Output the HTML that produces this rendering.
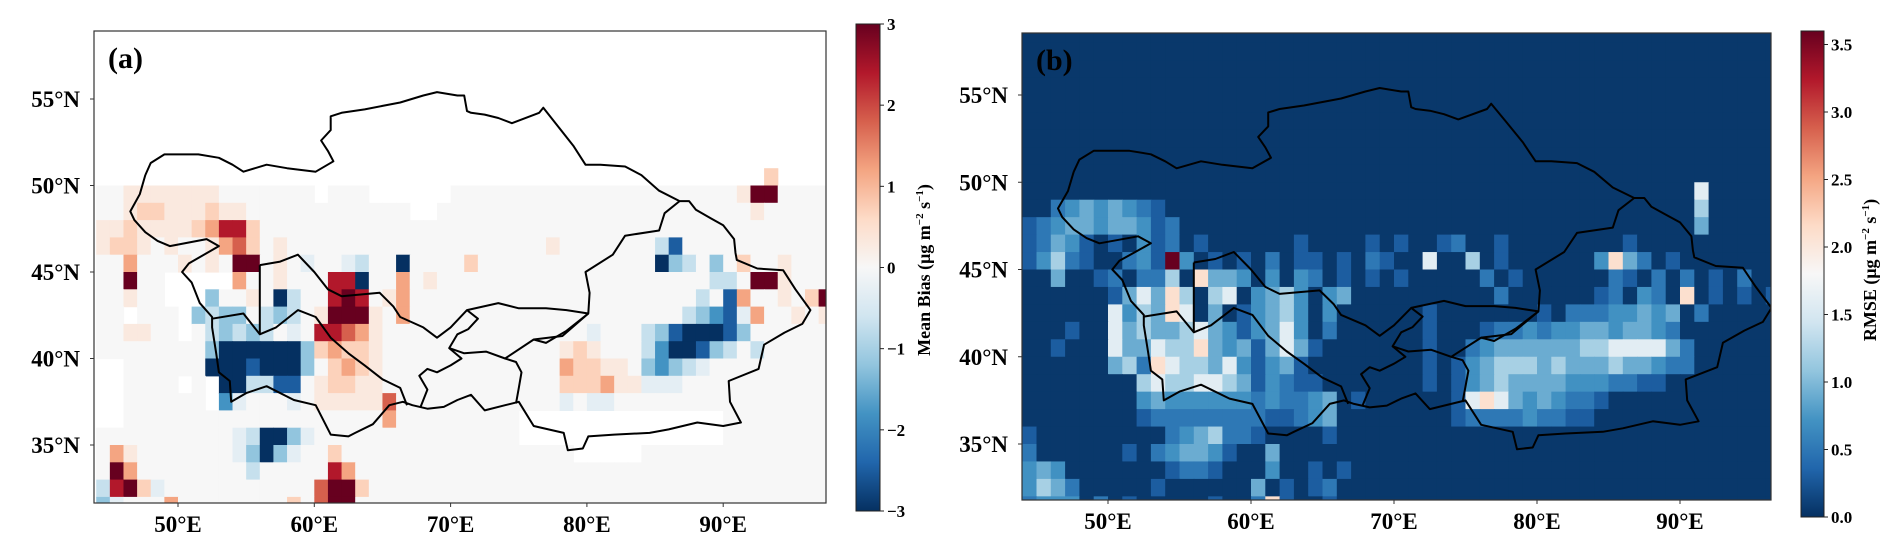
<!DOCTYPE html>
<html><head><meta charset="utf-8"><style>
html,body{margin:0;padding:0;background:#fff}
svg{display:block}
text{font-family:"Liberation Serif",serif;font-weight:bold;fill:#000}
</style></head><body>
<svg id="fig" width="1892" height="555" viewBox="0 0 1892 555" xmlns="http://www.w3.org/2000/svg">
<defs>
<linearGradient id="gradA" x1="0" y1="1" x2="0" y2="0">
<stop offset="0" stop-color="#053061"/><stop offset="0.1" stop-color="#2166ac"/><stop offset="0.2" stop-color="#4393c3"/><stop offset="0.3" stop-color="#92c5de"/><stop offset="0.4" stop-color="#d1e5f0"/><stop offset="0.5" stop-color="#f7f7f7"/><stop offset="0.6" stop-color="#fddbc7"/><stop offset="0.7" stop-color="#f4a582"/><stop offset="0.8" stop-color="#d6604d"/><stop offset="0.9" stop-color="#b2182b"/><stop offset="1" stop-color="#67001f"/>
</linearGradient>
<clipPath id="clipA"><rect x="94" y="31" width="732" height="472"/></clipPath>
<clipPath id="clipB"><rect x="1022" y="33" width="749" height="467"/></clipPath>
</defs>
<g id="panelA"></g>
<g id="panelB"></g>
</svg>
<script>
// ---- data ----
const latTicks = [55, 50, 45, 40, 35];
const lonTicks = [50, 60, 70, 80, 90];
const cbTicksA = [3, 2, 1, 0, -1, -2, -3];
const cbTicksB = [0.0, 0.5, 1.0, 1.5, 2.0, 2.5, 3.0, 3.5];
const levelCharsA = ".123456abcdef";
const levelValsA = [0, 0.3, 0.7, 1.2, 1.8, 2.4, 3, -0.3, -0.7, -1.2, -1.8, -2.5, -3];
const levelCharsB = ".123456789";
const levelValsB = [0.05, 0.3, 0.5, 0.7, 0.9, 1.2, 1.6, 2.1, 2.6, 3.6];
// grid: col i -> lon 44+i..45+i ; row j -> lat 59-j..58-j ; 'w' = no data
const gridA = [
"wwwwwwwwww wwwwwwwwww wwwwwwwwww wwwwwwwwww wwwwwwwwww wwww",
"wwwwwwwwww wwwwwwwwww wwwwwwwwww wwwwwwwwww wwwwwwwwww wwww",
"wwwwwwwwww wwwwwwwwww wwwwwwwwww wwwwwwwwww wwwwwwwwww wwww",
"wwwwwwwwww wwwwwwwwww wwwwwwwwww wwwwwwwwww wwwwwwwwww wwww",
"wwwwwwwwww wwwwwwwwww wwwwwwwwww wwwwwwwwww wwwwwwwwww wwww",
"wwwwwwwwww wwwwwwwwww wwwwwwwwww wwwwwwwwww wwwwwwwwww wwww",
"wwwwwwwwww wwwwwwwwww wwwwwwwwww wwwwwwwwww wwwwwwwwww wwww",
"wwwwwwwwww wwwwwwwwww wwwwwwwwww wwwwwwwwww wwwwwwwwww wwww",
"wwwwwwwwww wwwwwwwwww wwwwwwwwww wwwwwwwwww wwwwwwwww2 wwww",
"..1111111. ......w... wwwwww.... .......... .......166 ....",
"..12211121 1......... ...ww..... .......... ........1. ....",
"1121111235 52........ .......... .......... .......... ....",
"1221.1..13 42.1...... .......... ...1...... .be....... ....",
"..3...1.1. 66.1.a..ab ..f....2.. .......... .fcb.c.2.. 1...",
"..6..wwwww 3..1...55f ..3.1..... .......... .....bb.66 1...",
"..1..wwwc. .1.fb..565 .13....... .......... ....b.e3.. 1.26",
"..w...wcbc c.bcb.1666 1.3....... .......... ...bcdea3. .1.1",
"..11..w.bc bcb.a.5543 1......... ......a... bcefffec.. ....",
"........cf fffffc2322 1......... ....121... bdffecb.b. ....",
"ww......ff fefffc.232 1......... ....32211. cdcba..... ....",
"ww....w.wf fbbee.1221 1......... ....222311 aaa....... ....",
"ww......wd a...a.1111 14........ ....a.aa.. .......... ....",
"ww........ .......... .3........ .wwwwwwwww wwwwww.... ....",
".......... abffca.... .......... .wwwwwwwww wwwwww.... ....",
".31....... acfca..2.. .......... .....wwwww .......... ....",
".63....... .b.....53. .......... .......... .......... ....",
"b562a..... ......4662 .......... .......... .......... ....",
"ca...3.... ....2.466. .......... .......... .......... ...."
];
const gridB = [
".......... .......... .......... .......... .......... ....",
".......... .......... .......... .......... .......... ....",
".......... .......... .......... .......... .......... ....",
".......... .......... .......... .......... .......... ....",
".......... .......... .......... .......... .......... ....",
".......... .......... .......... .......... .......... ....",
".......... .......... .......... .......... .......... ....",
".......... .......... .......... .......... .......... ....",
".......... .......... .......... .......... .......... ....",
".......... .......... .......... .......... .......6.. ....",
"..23434321 .......... .......... .......... .......5.. ....",
"1234434431 2......... .......... .......... .......4.. ....",
"12431.1.31 2.1......1 ....1.1..1 2..1...... ..1....... ....",
"13521..231 93.1.1.2.1 1.1.21..6. .5.1...... 3742.1.... ....",
"..4..12.22 5.7443.3.3 2.1.1.1... ..2.1..... .21.2.2.1. 2...",
"......1464 75.56.3453 .34....... ...2...... 12.32.7.1. 1.1.",
"......6354 76.4.13453 .3......1. ......1.22 233434.2.. ....",
"...1..6454 4564313463 .2......1. ..12232334 434432.... ....",
"..1...6446 5574341464 1.......1. .234444445 5666642... ....",
"......4527 6554631341 ........1. 1345554544 4544322... ....",
"........56 5566541321 1.......1. 1345444433 32211..... ....",
"........34 3333332322 34.1...... 1676434322 1......... ....",
"........12 2222222112 34........ 1222232211 .......... ....",
"1......... 2345221... .1........ .......... .......... ....",
"2......1.2 34431..4.. .......... .......... .......... ....",
"343....... 1221...3.. 1.1....... .......... .......... ....",
"3542.....1 ......4.1. 12........ .......... .......... ....",
"2333.2.1.. ...1..271. .1........ .......... .......... ...."
];
// boundaries (lon, lat)
const outerBorder = [[47.6,50.6],[48,51.3],[49,51.8],[50.3,51.8],[51.5,51.8],[53,51.6],[54,51.2],[54.8,50.8],[56.5,51.2],[58,51],[60.1,50.8],[61.4,51.4],[61,52],[60.5,52.6],[61.2,53.2],[61.2,54],[62,54.2],[63.7,54.4],[65,54.6],[66.3,54.8],[68,55.2],[69,55.4],[70.5,55.2],[71,55.2],[71.2,54.3],[71.5,54.2],[72.5,54.1],[73.5,53.9],[74.5,53.6],[76.5,54.2],[76.8,54.5],[77.9,53.4],[79,52.3],[79.9,51.2],[81,51.2],[82.8,51.1],[84,50.6],[85.3,49.7],[86.8,49.1],[87.5,49.1],[88,48.6],[89.1,48.1],[90,47.7],[90.8,46.9],[90.9,46.1],[91,45.7],[92.5,45.2],[94.4,45.1],[95.3,44.0],[96.4,42.8],[95.8,42.0],[94.5,41.5],[93,40.8],[92.6,39.4],[90.4,38.7],[90.5,37.5],[91.3,36.3],[90,36.1],[88.1,36.3],[86,35.9],[84.6,35.7],[82,35.6],[80.1,35.5],[79.7,34.8],[78.6,34.7],[78.3,35.7],[76.1,36.1],[75,37.5],[74,37.3],[72.5,37.0],[71.5,37.9],[70.5,37.6],[69.5,37.2],[68.3,37.1],[67.2,37.3],[66.5,37.5],[65.5,37.3],[64.3,36.2],[63,35.7],[62.5,35.5],[61.2,35.6],[60.1,37.3],[58.5,37.6],[56.5,38.4],[55,38.0],[53.9,37.5],[53.8,38.7],[53.0,39.2],[52.8,40.3],[52.5,41.8],[52.5,42.4],[51.6,43.2],[51.0,44.4],[50.3,45.0],[50.8,45.5],[53,46.5],[52.1,46.9],[49.4,46.5],[48.5,46.8],[47.6,47.3],[46.8,48.0],[46.5,48.5],[47.2,49.5],[47.6,50.6]];
const kazSouthBorder = [[56.0,45.4],[57.5,45.6],[58.8,46.0],[60,45.0],[61,44.0],[62,43.6],[64.8,43.8],[65.8,43.0],[66.3,42.4],[68,41.8],[69,41.2],[70,41.8],[71.2,42.8],[73.5,43.2],[75,42.9],[77,42.9],[78.5,42.8],[80.1,42.6],[80.2,43.8],[79.9,45.0],[81.9,46.0],[82.8,47.1],[85.3,47.4],[85.7,48.4],[86.8,49.1]];
const ustyurtLine = [[56.0,45.4],[56.0,41.4]];
const turkUzbBorder = [[52.5,42.3],[54.8,42.6],[56.0,41.4],[57.2,41.8],[58.8,42.8],[60.1,42.4],[61.2,41.2],[62.5,40.3],[63.7,39.6],[65,38.8],[66.3,38.3],[66.8,37.3]];
const kyrgyzBorder = [[71.2,42.8],[72,42.3],[71.3,41.7],[70.5,41.4],[69.9,40.6],[71,40.3],[72.6,40.4],[74,40.0],[76.1,41.1],[78.2,41.3],[80.1,42.6]];
const tajikBorder = [[69.9,40.6],[70.8,40.0],[70,39.6],[69,39.2],[68.3,39.4],[67.7,39.0],[68.3,38.2],[67.8,37.2]];
const tajikEast = [[74,40.0],[74.8,39.8],[75.2,39.2],[75,38.3],[74.8,37.4]];
const chinaWest = [[80.1,42.6],[78.5,41.6],[77,40.9],[76.1,41.1]];

const NS = "http://www.w3.org/2000/svg";
function mk(tag, attrs, parent){const e=document.createElementNS(NS,tag);for(const k in attrs)e.setAttribute(k,attrs[k]);parent.appendChild(e);return e;}
const cmapStops = ["#053061","#2166ac","#4393c3","#92c5de","#d1e5f0","#f7f7f7","#fddbc7","#f4a582","#d6604d","#b2182b","#67001f"];
function hex2rgb(h){return [parseInt(h.slice(1,3),16),parseInt(h.slice(3,5),16),parseInt(h.slice(5,7),16)];}
function cmap(t){t=Math.max(0,Math.min(1,t));const p=t*10;const i=Math.min(9,Math.floor(p));const f=p-i;const a=hex2rgb(cmapStops[i]),b=hex2rgb(cmapStops[i+1]);return "rgb("+a.map((v,k)=>Math.round(v+(b[k]-v)*f)).join(",")+")";}

function drawPanel(cfg){
  const g=document.getElementById(cfg.id);
  const X=lon=>cfg.x50+(lon-50)*cfg.pxLon;
  const Y=lat=>cfg.y55+(55-lat)*cfg.pxLat;
  mk("rect",{x:cfg.fx,y:cfg.fy,width:cfg.fw,height:cfg.fh,fill:cfg.bg},g);
  const cells=mk("g",{"clip-path":"url(#"+cfg.clip+")"},g);
  
  
  cfg.grid.forEach((rowStr,j)=>{
    const row=rowStr.replace(/ /g,"");
    for(let i=0;i<row.length;i++){
      const ch=row[i]; if(ch==='w')continue;
      const k=cfg.chars.indexOf(ch); if(k<0)continue;
      const v=cfg.vals[k];
      const lon0=44+i, lat0=59-j;
      const x0=X(lon0), x1=X(lon0+1), y0=Y(lat0), y1=Y(lat0-1);
      const r=mk("rect",{x:x0.toFixed(2),y:y0.toFixed(2),width:(x1-x0+0.6).toFixed(2),height:(y1-y0+0.6).toFixed(2),fill:cmap((v-cfg.vmin)/(cfg.vmax-cfg.vmin))},cells);
      
      
    }
  });
  const bg=mk("g",{"clip-path":"url(#"+cfg.clip+")",fill:"none",stroke:"#000","stroke-width":"2","stroke-linejoin":"round"},g);
  
  
  [outerBorder,kazSouthBorder,ustyurtLine,turkUzbBorder,kyrgyzBorder,tajikBorder,tajikEast,chinaWest].forEach(line=>{
    const p=mk("polyline",{points:line.map(q=>X(q[0]).toFixed(1)+","+Y(q[1]).toFixed(1)).join(" ")},bg);
    
    
  });
  const fr=mk("rect",{x:cfg.fx,y:cfg.fy,width:cfg.fw,height:cfg.fh,fill:"none",stroke:"#333","stroke-width":"1.2"},g);
  
  
  const pl=mk("text",{x:cfg.fx+14,y:cfg.fy+37,"font-size":"30",fill:cfg.labelColor},g);
  pl.textContent=cfg.label;
  
  
  latTicks.forEach(lat=>{
    const y=Y(lat);
    mk("line",{x1:cfg.fx-4,x2:cfg.fx,y1:y,y2:y,stroke:"#333"},g);
    const t=mk("text",{x:cfg.fx-14,y:y+8,"font-size":"23","text-anchor":"end"},g);
    t.textContent=lat+"°N";
    
    
  });
  lonTicks.forEach(lon=>{
    const x=X(lon);
    mk("line",{x1:x,x2:x,y1:cfg.fy+cfg.fh,y2:cfg.fy+cfg.fh+4,stroke:"#333"},g);
    const t=mk("text",{x:x,y:cfg.fy+cfg.fh+29,"font-size":"23","text-anchor":"middle"},g);
    t.textContent=lon+"°E";
    
    
  });
  const cb=mk("rect",{x:cfg.cbx,y:cfg.cby,width:cfg.cbw,height:cfg.cbh,fill:"url(#gradA)",stroke:"#222","stroke-width":"1"},g);
  
  
  cfg.cbTicks.forEach(v=>{
    const y=cfg.cby+cfg.cbh-(v-cfg.vmin)/(cfg.vmax-cfg.vmin)*cfg.cbh;
    mk("line",{x1:cfg.cbx+cfg.cbw,x2:cfg.cbx+cfg.cbw+4,y1:y,y2:y,stroke:"#222"},g);
    const t=mk("text",{x:cfg.cbx+cfg.cbw+7,y:y+6,"font-size":"17"},g);
    t.textContent=(v<0?"−"+Math.abs(v):(cfg.decimals?v.toFixed(1):String(v)));
    
    
  });
  const ct=mk("text",{x:0,y:0,"font-size":"18","text-anchor":"middle",transform:"translate("+cfg.cbLabelX+","+cfg.cbLabelY+") rotate(-90)"},g);
  ct.innerHTML=cfg.cbLabel+"  (μg m<tspan font-size='11' dy='-7'>−2</tspan><tspan dy='7'> s</tspan><tspan font-size='11' dy='-7'>−1</tspan><tspan dy='7'>)</tspan>";
  
  
}
drawPanel({id:"panelA",clip:"clipA",grid:gridA,chars:levelCharsA,vals:levelValsA,vmin:-3,vmax:3,bg:"#ffffff",
  x50:178,pxLon:13.63,y55:99,pxLat:17.3,fx:94,fy:31,fw:732,fh:472,label:"(a)",labelColor:"#000",
  cbx:856,cby:24,cbw:24,cbh:487,cbTicks:cbTicksA,decimals:false,cbLabel:"Mean Bias",cbLabelX:930,cbLabelY:270});
drawPanel({id:"panelB",clip:"clipB",grid:gridB,chars:levelCharsB,vals:levelValsB,vmin:0,vmax:3.6,bg:cmap(0.01),
  x50:1108,pxLon:14.3,y55:95,pxLat:17.45,fx:1022,fy:33,fw:749,fh:467,label:"(b)",labelColor:"#fff",
  cbx:1801,cby:31,cbw:23,cbh:486,cbTicks:cbTicksB,decimals:true,cbLabel:"RMSE",cbLabelX:1876,cbLabelY:270});
</script>
</body></html>
